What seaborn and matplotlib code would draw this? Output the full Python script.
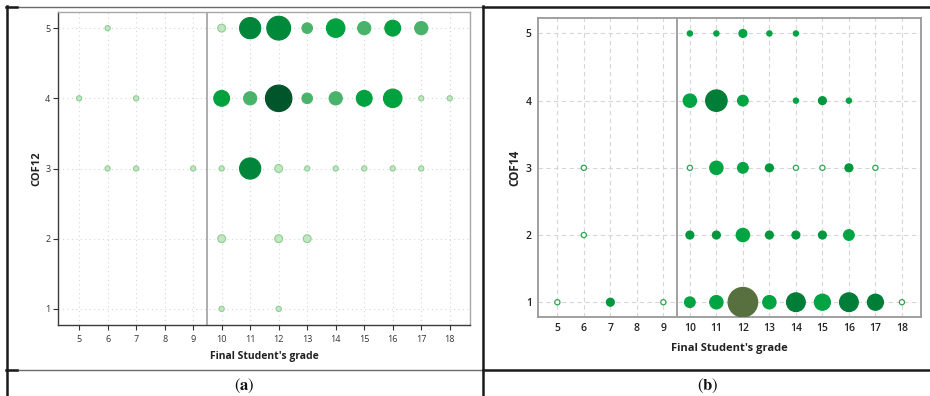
import matplotlib
matplotlib.use("Agg")
import matplotlib.pyplot as plt
import pandas as pd
import seaborn as sns
from matplotlib.lines import Line2D

# ---------------- data ----------------
grade_ticks = [5, 6, 7, 8, 9, 10, 11, 12, 13, 14, 15, 16, 17, 18]
cof_ticks = [1, 2, 3, 4, 5]

# Panel (a): COF12 vs final grade (bubble = number of students)
cof12_grade = [6, 10, 11, 12, 13, 14, 15, 16, 17,
               5, 7, 10, 11, 12, 13, 14, 15, 16, 17, 18,
               6, 7, 9, 10, 11, 12, 13, 14, 15, 16, 17,
               10, 12, 13,
               10, 12]
cof12_value = [5, 5, 5, 5, 5, 5, 5, 5, 5,
               4, 4, 4, 4, 4, 4, 4, 4, 4, 4, 4,
               3, 3, 3, 3, 3, 3, 3, 3, 3, 3, 3,
               2, 2, 2,
               1, 1]
cof12_count = [1, 2, 7, 8, 3, 6, 4, 5, 4,
               1, 1, 5, 4, 9, 3, 4, 5, 6, 1, 1,
               1, 1, 1, 1, 7, 2, 1, 1, 1, 1, 1,
               2, 2, 2,
               1, 1]

# Panel (b): COF14 vs final grade
cof14_grade = [10, 11, 12, 13, 14,
               10, 11, 12, 14, 15, 16,
               6, 10, 11, 12, 13, 14, 15, 16, 17,
               6, 10, 11, 12, 13, 14, 15, 16,
               5, 7, 9, 10, 11, 12, 13, 14, 15, 16, 17, 18]
cof14_value = [5, 5, 5, 5, 5,
               4, 4, 4, 4, 4, 4,
               3, 3, 3, 3, 3, 3, 3, 3, 3,
               2, 2, 2, 2, 2, 2, 2, 2,
               1, 1, 1, 1, 1, 1, 1, 1, 1, 1, 1, 1]
cof14_count = [1, 1, 2, 1, 1,
               4, 7, 3, 1, 2, 1,
               1, 1, 4, 3, 2, 1, 1, 2, 1,
               1, 2, 2, 4, 2, 2, 2, 3,
               1, 2, 1, 3, 4, 10, 4, 6, 5, 6, 5, 1]
cof14_shade = [1, 1, 1, 1, 1,
               1, 3, 1, 1, 2, 1,
               0, 0, 1, 1, 2, 0, 0, 2, 0,
               0, 2, 2, 1, 2, 2, 2, 1,
               0, 2, 0, 1, 1, 4, 1, 3, 1, 3, 3, 0]

df12 = pd.DataFrame({"grade": cof12_grade, "cof": cof12_value, "n": cof12_count})
df14 = pd.DataFrame({"grade": cof14_grade, "cof": cof14_value, "n": cof14_count,
                     "shade": cof14_shade})

# ---------------- style ----------------
plt.rcParams["font.family"] = ["Open Sans", "DejaVu Sans"]
plt.rcParams["mathtext.fontset"] = "stix"

W, H = 930, 396
fig = plt.figure(figsize=(W / 100, H / 100), dpi=100)


def px_axes(x0, y0, x1, y1):
    return fig.add_axes([x0 / W, 1 - y1 / H, (x1 - x0) / W, (y1 - y0) / H])


def area(r_px):
    return (2 * r_px * 0.72) ** 2


pal12 = {1: "#c4e5c1", 2: "#c4e5c1", 3: "#4ab36b", 4: "#4ab36b", 5: "#00a13f",
         6: "#00a13f", 7: "#00853a", 8: "#00883b", 9: "#00552b"}
sizes12 = {c: area(3.0 + 1.33 * (c - 1) - 0.4) for c in sorted(set(cof12_count))}

pal14 = {0: "#ffffff", 1: "#00a443", 2: "#00973e", 3: "#007d36", 4: "#587040"}
sizes14 = {c: area(3.0 + 1.35 * (c - 1) - 0.4) for c in sorted(set(cof14_count))}

# ---------------- panel (a) ----------------
ax1 = px_axes(58, 12, 470, 325)
sns.scatterplot(data=df12, x="grade", y="cof", hue="n", size="n",
                palette=pal12, sizes=sizes12, legend=False, ax=ax1,
                linewidth=0.8, zorder=3)
pc = ax1.collections[-1]
fcs = pc.get_facecolors()
ecs = []
for fc in fcs:
    if fc[0] > 0.6:
        ecs.append("#8ccf93")
    else:
        ecs.append(fc)
pc.set_edgecolors(ecs)

ax1.axvline(9.5, color="#a0a0a0", lw=1.2, zorder=2)
ax1.set_xlim(4.26, 18.71)
ax1.set_ylim(0.77, 5.23)
ax1.set_xticks(grade_ticks)
ax1.set_yticks(cof_ticks)
ax1.grid(True, linestyle=(0, (1, 3)), color="#d6d6d6", lw=0.8)
ax1.set_axisbelow(True)
for s in ["left", "bottom"]:
    ax1.spines[s].set_color("#3a3a3a")
    ax1.spines[s].set_linewidth(1.0)
for s in ["top", "right"]:
    ax1.spines[s].set_color("#a8a8a8")
    ax1.spines[s].set_linewidth(1.0)
ax1.tick_params(axis="both", labelsize=6.5, colors="#333333", length=3.5, width=0.8,
                pad=2)
ax1.tick_params(axis="x", pad=4)
ax1.set_xlabel("Final Student's grade", fontsize=7.5, fontweight="bold",
               color="#222222", labelpad=5)
ax1.set_ylabel("COF12", fontsize=8, fontweight="bold", color="#222222", labelpad=2)

# ---------------- panel (b) ----------------
ax2 = px_axes(538, 18, 921, 317)
sns.scatterplot(data=df14, x="grade", y="cof", hue="shade", size="n",
                palette=pal14, sizes=sizes14, legend=False, ax=ax2,
                linewidth=0.9, zorder=3)
pc2 = ax2.collections[-1]
fcs2 = pc2.get_facecolors()
ecs2 = []
for fc in fcs2:
    if fc[0] > 0.9:
        ecs2.append("#2ea452")
    else:
        ecs2.append(fc)
pc2.set_edgecolors(ecs2)

ax2.axvline(9.5, color="#9a9a9a", lw=1.3, zorder=2)
ax2.set_xlim(4.27, 18.72)
ax2.set_ylim(0.78, 5.23)
ax2.set_xticks(grade_ticks)
ax2.set_yticks(cof_ticks)
ax2.grid(True, linestyle=(0, (4, 3)), color="#d6d6d6", lw=0.8)
ax2.set_axisbelow(True)
for s in ax2.spines.values():
    s.set_color("#999999")
    s.set_linewidth(1.3)
ax2.tick_params(axis="both", labelsize=7.5, colors="#222222", length=0, pad=4.5)
for lab in ax2.get_xticklabels() + ax2.get_yticklabels():
    lab.set_fontweight("semibold")
ax2.set_xlabel("Final Student's grade", fontsize=8, fontweight="bold",
               color="#222222", labelpad=6)
ax2.set_ylabel("COF14", fontsize=8.5, fontweight="bold", color="#222222", labelpad=3.5)

# ---------------- table frame & captions ----------------
def hline(y, x0, x1, color, lw):
    fig.add_artist(Line2D([x0 / W, x1 / W], [1 - y / H, 1 - y / H],
                          transform=fig.transFigure, color=color, lw=lw))


def vline(x, y0, y1, color, lw):
    fig.add_artist(Line2D([x / W, x / W], [1 - y0 / H, 1 - y1 / H],
                          transform=fig.transFigure, color=color, lw=lw))


hline(7, 7, 483, "#6a6a6a", 1.0)
hline(7, 483, 930, "#1a1a1a", 1.8)
hline(370, 7, 483, "#6a6a6a", 1.0)
hline(370, 483, 930, "#1a1a1a", 1.8)
hline(7, 6, 17, "#1a1a1a", 1.8)
hline(370, 6, 17, "#1a1a1a", 1.8)
vline(7, 6, 396, "#1a1a1a", 1.8)
vline(483, 6, 396, "#1a1a1a", 1.8)

fig.text(244 / W, 1 - 386 / H, r"$(\mathbf{a})$", ha="center", va="center",
         fontsize=12, color="#111111")
fig.text(708 / W, 1 - 386 / H, r"$(\mathbf{b})$", ha="center", va="center",
         fontsize=12, color="#111111")

fig.savefig("out.png", dpi=100)
